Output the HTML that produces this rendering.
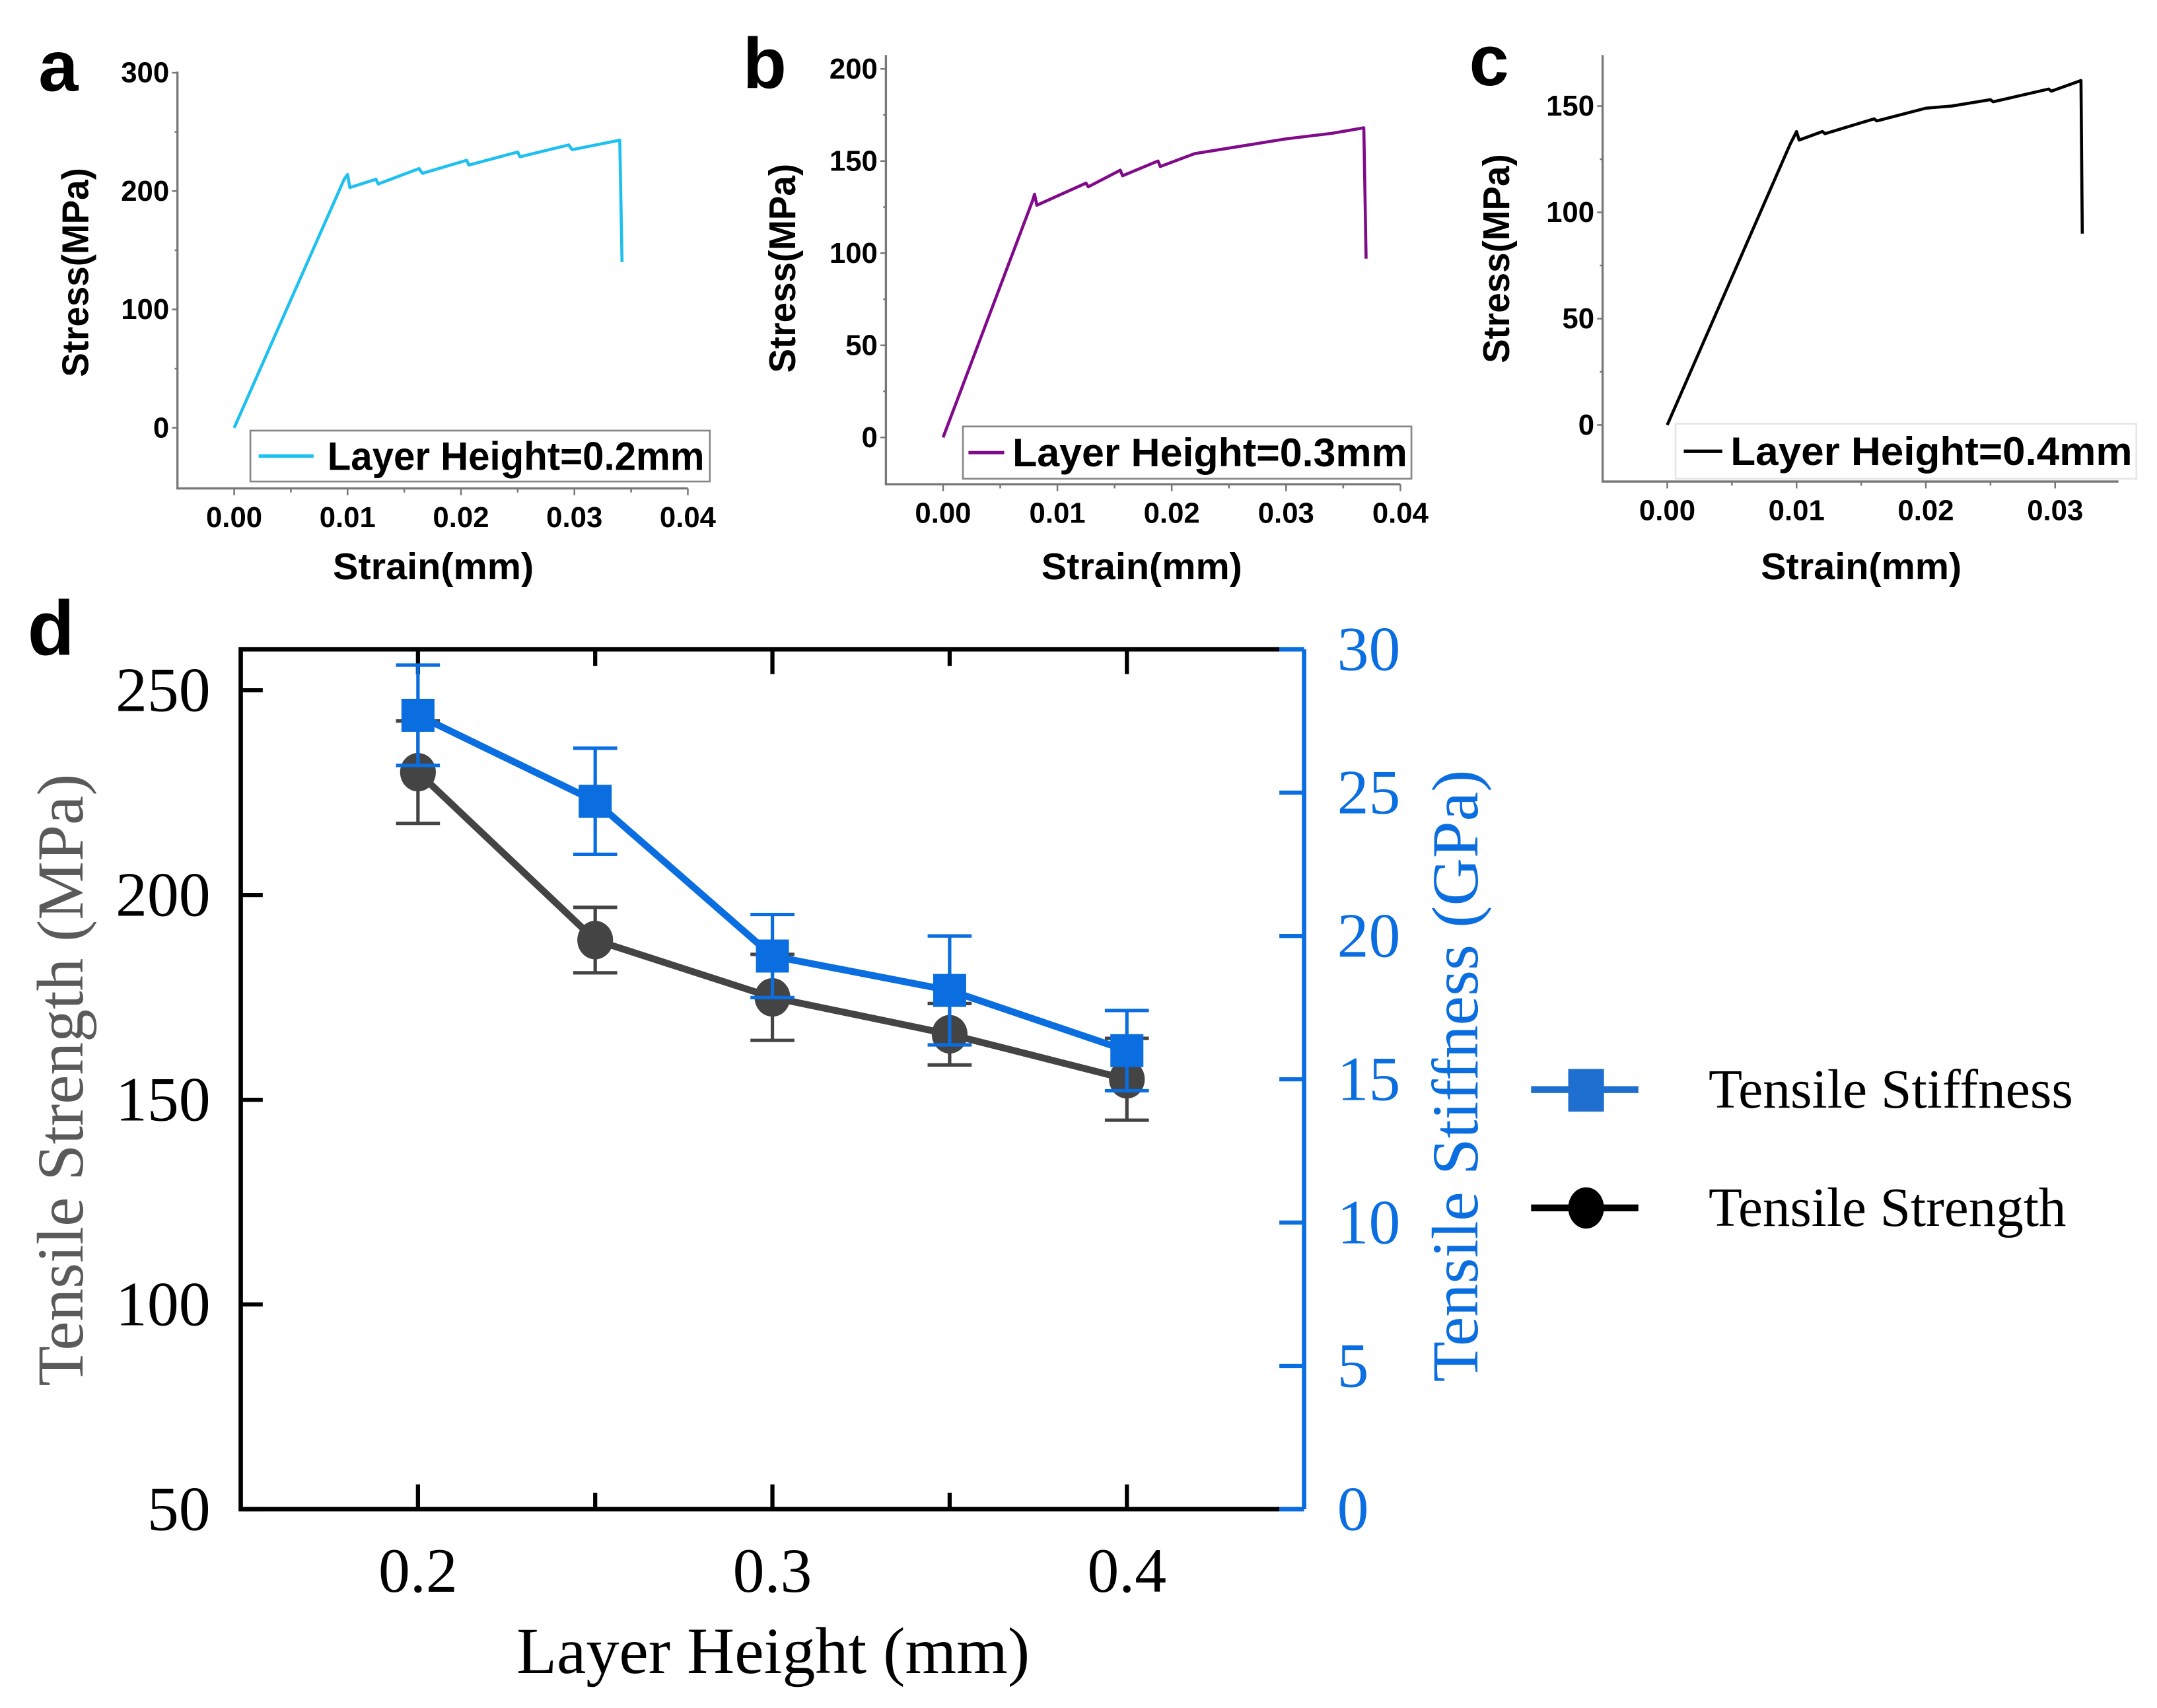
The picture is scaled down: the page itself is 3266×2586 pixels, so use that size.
<!DOCTYPE html>
<html><head><meta charset="utf-8"><style>
html,body{margin:0;padding:0;background:#fff}
svg{display:block}
.sb{font-family:"Liberation Sans Narrow","Liberation Sans",sans-serif;font-weight:bold}
.tr{font-family:"Liberation Serif",serif}
</style></head><body>
<svg id="fig" width="3266" height="2586" viewBox="0 0 1568 1241.5" preserveAspectRatio="none" xmlns="http://www.w3.org/2000/svg">
<rect width="1568" height="1241.5" fill="#fff"/>
</svg>
<script>
// ---- Panel a/b/c stress-strain data ----
const strainA=[0,0.0097,0.0100,0.0102,0.0125,0.0127,0.0163,0.0166,0.0205,0.0207,0.0250,0.0252,0.0295,0.0298,0.0340,0.0342];
const stressA=[0,210,214,203,210,206,219,215,226,222,233,229,239,235,243,140];
const strainB=[0,0.0078,0.0080,0.0082,0.0125,0.0127,0.0155,0.0157,0.0188,0.0190,0.0220,0.0260,0.0300,0.0340,0.0368,0.0370];
const stressB=[0,128,132,126,138,136,145,142,150,147,154,158,162,165,168,97];
const strainC=[0,0.0095,0.0100,0.0102,0.0120,0.0122,0.0160,0.0162,0.0200,0.0220,0.0250,0.0252,0.0295,0.0297,0.0320,0.0321];
const stressC=[0,132,138,134,138,137,144,143,149,150,153,152,158,157,162,90];
// ---- Panel d data ----
const layerH=[0.2,0.25,0.3,0.35,0.4];
const strength=[230,189,175,166,155];
const strengthErr=[12.5,8,10.5,7.5,10];
const stiffness=[27.7,24.7,19.3,18.1,16.0];
const stiffErr=[1.75,1.85,1.45,1.9,1.4];
const xTicksD=[0.2,0.3,0.4];
const yTicksL=[50,100,150,200,250];
const yTicksR=[0,5,10,15,20,25,30];

const NS="http://www.w3.org/2000/svg";
const svg=document.getElementById('fig');
function mk(tag,attrs,parent,text){const e=document.createElementNS(NS,tag);for(const k in attrs)e.setAttribute(k,attrs[k]);if(text!==undefined)e.textContent=text;(parent||svg).appendChild(e);return e;}

function panel(o){
  const g=mk('g',{});
  
  
  const X=v=>o.x0+(v-o.xmin)/(o.xmax-o.xmin)*(o.x1-o.x0);
  const Y=v=>o.y1-(v-o.ymin)/(o.ymax-o.ymin)*(o.y1-o.y0);
  const ax=mk('path',{d:`M${o.x0},${o.y0} V${o.y1} H${o.x1}`,stroke:'#777',fill:'none','stroke-width':1.6},g);
  
  
  for(let v=o.ymin0;v<=o.ymax+1e-9;v+=o.ystep/2){const maj=Math.abs((v/o.ystep)-Math.round(v/o.ystep))<1e-6;
    mk('line',{x1:o.x0-(maj?4:2),x2:o.x0,y1:Y(v),y2:Y(v),stroke:'#777','stroke-width':1.2},g);
    if(maj&&v<=o.ylabmax){const t=mk('text',{x:o.x0-6,y:Y(v)+7,'text-anchor':'end','font-size':21,class:'sb'},g,String(v));}}
  for(let v=0;v<=o.xlabmax+1e-9;v+=0.005){const maj=Math.abs(v*100-Math.round(v*100))<1e-6;
    mk('line',{x1:X(v),x2:X(v),y1:o.y1,y2:o.y1+(maj?5:3),stroke:'#777','stroke-width':1.2},g);
    if(maj){const t=mk('text',{x:X(v),y:o.y1+28,'text-anchor':'middle','font-size':21,class:'sb'},g,v.toFixed(2));}}
  const c=mk('polyline',{points:o.sx.map((s,i)=>X(s)+','+Y(o.sy[i])).join(' '),fill:'none',stroke:o.color,'stroke-width':2.2,'stroke-linejoin':'round'},g);
  
  
  const lb=mk('rect',{x:o.lx,y:o.ly,width:o.lw,height:o.lh,fill:'#fff',stroke:o.lstroke,'stroke-width':1.3},g);
  
  
  mk('line',{x1:o.lx+o.ll0,x2:o.lx+o.ll1,y1:o.ly+o.lh/2,y2:o.ly+o.lh/2,stroke:o.color,'stroke-width':2.5},g);
  const lt=mk('text',{x:o.ltx,y:o.ly+o.lh/2+10,'font-size':29,class:'sb',textLength:o.ltw,lengthAdjust:'spacingAndGlyphs'},g,o.ltext);
  
  
  const yt=mk('text',{x:0,y:0,'font-size':27,class:'sb','text-anchor':'middle',textLength:152,lengthAdjust:'spacingAndGlyphs',transform:`translate(${o.ytx},${o.yty}) rotate(-90)`},g,'Stress(MPa)');
  
  
  const xt=mk('text',{x:o.xtx,y:421,'font-size':27,class:'sb','text-anchor':'middle',textLength:146,lengthAdjust:'spacingAndGlyphs'},g,'Strain(mm)');
  
  
  const pl=mk('text',{x:o.px,y:o.py,'font-size':52,'font-family':'Liberation Sans, sans-serif','font-weight':'bold'},g,o.letter);
  
  
}
panel({name:'panel-a',x0:129,x1:500,y0:52,y1:355,xmin:-0.005,xmax:0.04,ymin:-51.2,ymax:301,ymin0:0,ystep:100,ylabmax:300,xlabmax:0.04,
  sx:strainA,sy:stressA,color:'#1ec0f0',lx:182,ly:313,lw:334,lh:37,ll0:6,ll1:46,ltx:238,ltw:274,lstroke:'#888',ltext:'Layer Height=0.2mm',ytx:64,yty:198,xtx:315,px:28,py:66,letter:'a'});
panel({name:'panel-b',x0:644,x1:1018,y0:40,y1:352,xmin:-0.005,xmax:0.04,ymin:-25.4,ymax:207.5,ymin0:0,ystep:50,ylabmax:200,xlabmax:0.04,
  sx:strainB,sy:stressB,color:'#800a8a',lx:700,ly:310,lw:326,lh:38,ll0:4,ll1:30,ltx:736,ltw:287,lstroke:'#888',ltext:'Layer Height=0.3mm',ytx:578,yty:195,xtx:830,px:540,py:64,letter:'b'});
panel({name:'panel-c',x0:1165,x1:1540,y0:40,y1:350,xmin:-0.005,xmax:0.0349,ymin:-26.6,ymax:174,ymin0:0,ystep:50,ylabmax:150,xlabmax:0.03,
  sx:strainC,sy:stressC,color:'#000',lx:1218,ly:308,lw:335,lh:40,ll0:6,ll1:34,ltx:1258,ltw:292,lstroke:'#e6e6e6',ltext:'Layer Height=0.4mm',ytx:1097,yty:188,xtx:1353,px:1068,py:62,letter:'c'});

// ---- Panel d ----
const gd=mk('g',{});


const L=175,R=948,T=472,B=1097,BL='#0a6ee0';
const xD=v=>L+(v-0.15)/(0.45-0.15)*(R-L);
const yL=v=>B-(v-50)/(260-50)*(B-T);
const yR=v=>B-(v/30)*(B-T);
mk('path',{d:`M${R-18},${T} H${L} V${B} H${R-18}`,fill:'none',stroke:'#000','stroke-width':3.2},gd);
const ra=mk('line',{x1:R,x2:R,y1:T,y2:B,stroke:BL,'stroke-width':3.2},gd);


mk('line',{x1:R-18,x2:R,y1:T,y2:T,stroke:BL,'stroke-width':3.2},gd);
mk('line',{x1:R-18,x2:R,y1:B,y2:B,stroke:BL,'stroke-width':3.2},gd);
layerH.forEach(v=>{const maj=xTicksD.some(t=>Math.abs(t-v)<1e-9);
  mk('line',{x1:xD(v),x2:xD(v),y1:T,y2:T+(maj?18:12),stroke:'#000','stroke-width':3},gd);
  mk('line',{x1:xD(v),x2:xD(v),y1:B,y2:B-(maj?18:12),stroke:'#000','stroke-width':3},gd);});
xTicksD.forEach(v=>{const t=mk('text',{x:xD(v),y:1157,'text-anchor':'middle','font-size':46,class:'tr'},gd,v.toFixed(1));});
yTicksL.forEach(v=>{mk('line',{x1:L,x2:L+16,y1:yL(v),y2:yL(v),stroke:'#000','stroke-width':3},gd);
  const t=mk('text',{x:153,y:yL(v)+15,'text-anchor':'end','font-size':46,class:'tr'},gd,String(v));});
yTicksR.forEach(v=>{mk('line',{x1:R-18,x2:R,y1:yR(v),y2:yR(v),stroke:BL,'stroke-width':3},gd);
  const t=mk('text',{x:972,y:yR(v)+15,'font-size':46,class:'tr',fill:BL},gd,String(v));});
const xtD=mk('text',{x:562,y:1216,'text-anchor':'middle','font-size':48,class:'tr'},gd,'Layer Height (mm)');


const ytL=mk('text',{x:0,y:0,'text-anchor':'middle','font-size':48,class:'tr',fill:'#5a5a5a',textLength:445,lengthAdjust:'spacingAndGlyphs',transform:'translate(60,785) rotate(-90)'},gd,'Tensile Strength (MPa)');


const ytR=mk('text',{x:0,y:0,'text-anchor':'middle','font-size':48,class:'tr',fill:BL,textLength:445,lengthAdjust:'spacingAndGlyphs',transform:'translate(1074,782) rotate(-90)'},gd,'Tensile Stiffness (GPa)');


const dl=mk('text',{x:20,y:476,'font-size':56,'font-family':'Liberation Sans, sans-serif','font-weight':'bold'},gd,'d');


// strength series
mk('polyline',{points:layerH.map((v,i)=>xD(v)+','+yL(strength[i])).join(' '),fill:'none',stroke:'#444','stroke-width':5},gd);
layerH.forEach((v,i)=>{const x=xD(v);
  mk('path',{d:`M${x},${yL(strength[i]-strengthErr[i])} V${yL(strength[i]+strengthErr[i])} M${x-16},${yL(strength[i]-strengthErr[i])} H${x+16} M${x-16},${yL(strength[i]+strengthErr[i])} H${x+16}`,stroke:'#444','stroke-width':2.5,fill:'none'},gd);
  const c=mk('ellipse',{cx:x,cy:yL(strength[i]),rx:13,ry:14,fill:'#444'},gd);
  
  });
// stiffness series
mk('polyline',{points:layerH.map((v,i)=>xD(v)+','+yR(stiffness[i])).join(' '),fill:'none',stroke:BL,'stroke-width':5},gd);
layerH.forEach((v,i)=>{const x=xD(v);
  mk('path',{d:`M${x},${yR(stiffness[i]-stiffErr[i])} V${yR(stiffness[i]+stiffErr[i])} M${x-16},${yR(stiffness[i]-stiffErr[i])} H${x+16} M${x-16},${yR(stiffness[i]+stiffErr[i])} H${x+16}`,stroke:BL,'stroke-width':2.5,fill:'none'},gd);
  const s=mk('rect',{x:x-12,y:yR(stiffness[i])-12,width:24,height:24,fill:BL},gd);
  
  });
// legend
const lg=mk('g',{},gd);


mk('line',{x1:1113,x2:1191,y1:792,y2:792,stroke:'#1f6fd0','stroke-width':5},lg);
mk('rect',{x:1140,y:777,width:26,height:31,fill:'#1f6fd0'},lg);
const le1=mk('text',{x:1242,y:805,'font-size':40,class:'tr',textLength:265,lengthAdjust:'spacingAndGlyphs'},lg,'Tensile Stiffness');


mk('line',{x1:1113,x2:1191,y1:878,y2:878,stroke:'#000','stroke-width':5},lg);
mk('ellipse',{cx:1153,cy:878,rx:13,ry:15,fill:'#000'},lg);
const le2=mk('text',{x:1242,y:891,'font-size':40,class:'tr',textLength:260,lengthAdjust:'spacingAndGlyphs'},lg,'Tensile Strength');


</script>
</body></html>
